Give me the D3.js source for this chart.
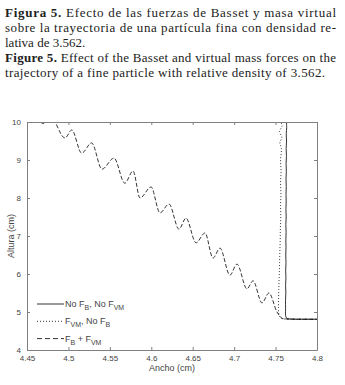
<!DOCTYPE html>
<html>
<head>
<meta charset="utf-8">
<script src="https://cdn.jsdelivr.net/npm/d3@7"></script>
<style>
  body { margin: 0; background: #fff; }
  svg { display: block; }
</style>
</head>
<body>
<svg width="345" height="385"></svg>
<script>
// caption lines (len = width the line spans in the figure, null = natural)
const captionLines = [
  { bold: "Figura 5.", text: " Efecto de las fuerzas de Basset y masa virtual", len: 331 },
  { bold: "", text: "sobre la trayectoria de una partícula fina con densidad re-", len: 331 },
  { bold: "", text: "lativa de 3.562.", len: null },
  { bold: "Figure 5.", text: " Effect of the Basset and virtual mass forces on the", len: 331 },
  { bold: "", text: "trajectory of a fine particle with relative density of 3.562.", len: 320 }
];

const xTicks = [4.45, 4.5, 4.55, 4.6, 4.65, 4.7, 4.75, 4.8];
const yTicks = [4, 5, 6, 7, 8, 9, 10];

// F_B + F_VM (dashed, oscillating)
const dashX = [4.455, 4.470, 4.478, 4.4959, 4.504, 4.516, 4.528, 4.5405, 4.555, 4.568, 4.578,
  4.5864, 4.5997, 4.6105, 4.6214, 4.6334, 4.6419, 4.654, 4.6648, 4.6745, 4.6829, 4.6949,
  4.7034, 4.7155, 4.7228, 4.7336, 4.742, 4.7517, 4.7555, 4.758, 4.765, 4.8];
const dashY = [10.4, 9.96, 10.15, 9.58, 9.79, 9.18, 9.45, 8.76, 9.05, 8.39, 8.71,
  8.0, 8.29, 7.61, 7.84, 7.18, 7.47, 6.82, 7.08, 6.42, 6.68, 5.97,
  6.26, 5.61, 5.82, 5.24, 5.50, 5.0, 4.88, 4.83, 4.815, 4.81];

// No F_B, No F_VM (solid)
const solidX = [4.7630, 4.7634, 4.7629, 4.7632, 4.7628, 4.7631, 4.7627, 4.7630, 4.7626, 4.7629,
  4.7626, 4.7628, 4.7625, 4.7628, 4.7624, 4.7627, 4.7624, 4.7626, 4.7623, 4.7626, 4.7622,
  4.7625, 4.7621, 4.7624, 4.7620, 4.7621, 4.7620, 4.7625, 4.7640, 4.7680, 4.7750, 4.8];
const solidY = [10.05, 9.85, 9.7, 9.5, 9.3, 9.1, 8.9, 8.7, 8.5, 8.3, 8.1, 7.9, 7.7, 7.5, 7.3,
  7.1, 6.9, 6.7, 6.5, 6.3, 6.1, 5.9, 5.7, 5.5, 5.3, 5.1, 4.95, 4.87, 4.83, 4.815, 4.81, 4.81];

// F_VM, No F_B (dotted)
const dotX = [4.7550, 4.7578, 4.7548, 4.7575, 4.7552, 4.7570, 4.7560, 4.7566, 4.7560, 4.7565,
  4.7560, 4.7563, 4.7558, 4.7556, 4.7552, 4.7548, 4.7545, 4.7540, 4.7537, 4.7535, 4.7540,
  4.7555, 4.7575, 4.7620, 4.8];
const dotY = [10.05, 9.9, 9.75, 9.6, 9.45, 9.3, 9.0, 8.7, 8.4, 8.1, 7.8, 7.5, 7.2, 6.9, 6.6,
  6.3, 6.0, 5.7, 5.4, 5.1, 4.95, 4.87, 4.83, 4.815, 4.81];

const series = [
  { name: "solid", xs: solidX, ys: solidY, dash: null },
  { name: "dotted", xs: dotX, ys: dotY, dash: "1,2" },
  { name: "dashed", xs: dashX, ys: dashY, dash: "4,2" }
];

const svg = d3.select("svg");
const axisColor = "#808080", textColor = "#444";

// caption
const cap = svg.append("g")
  .attr("font-family", "'Liberation Serif', 'DejaVu Serif', serif")
  .attr("font-size", 13)
  .attr("fill", "#222");
captionLines.forEach((l, i) => {
  const t = cap.append("text").attr("x", 5).attr("y", 17 + i * 15);
  if (l.len) t.attr("textLength", l.len).attr("lengthAdjust", "spacing");
  if (l.bold) t.append("tspan").attr("font-weight", "bold").text(l.bold);
  t.append("tspan").text(l.text);
});

// scales
const plotLeft = 27, plotRight = 317, plotTop = 122, plotBottom = 350;
const xScale = d3.scaleLinear().domain([4.45, 4.8]).range([plotLeft, plotRight]);
const yScale = d3.scaleLinear().domain([4, 10]).range([plotBottom, plotTop]);

// clip
svg.append("clipPath").attr("id", "plotClip")
  .append("rect").attr("x", plotLeft).attr("y", plotTop)
  .attr("width", plotRight - plotLeft).attr("height", plotBottom - plotTop);

// lines
const line = d3.line()
  .x((d) => xScale(d[0]))
  .y((d) => yScale(d[1]));

const lines = svg.append("g").attr("clip-path", "url(#plotClip)");
series.forEach((s) => {
  const pts = s.xs.map((x, i) => [x, s.ys[i]]);
  lines.append("path")
    .attr("d", line.curve(s.name === "dashed" ? d3.curveMonotoneX : d3.curveCatmullRom)(pts))
    .attr("fill", "none")
    .attr("stroke", "#000")
    .attr("stroke-width", 0.8)
    .attr("stroke-dasharray", s.dash);
});

// axes (ticks inward on all four sides)
function drawAxis(axis, tx, ty, id) {
  const g = svg.append("g").attr("id", id)
    .attr("transform", `translate(${tx},${ty})`).call(axis);
  g.select("path.domain").attr("stroke", axisColor);
  g.selectAll(".tick line").attr("stroke", axisColor);
  g.selectAll("text").attr("fill", textColor)
    .attr("font-family", "'Liberation Sans', Arial, sans-serif").attr("font-size", 8);
  return g;
}
drawAxis(d3.axisBottom(xScale).tickValues(xTicks).tickSizeInner(-3).tickSizeOuter(0)
  .tickPadding(5).tickFormat(d3.format("")), 0, plotBottom, "xAxisG");
drawAxis(d3.axisLeft(yScale).tickValues(yTicks).tickSizeInner(-3).tickSizeOuter(0)
  .tickPadding(6).tickFormat(d3.format("")), plotLeft, 0, "yAxisG");
drawAxis(d3.axisTop(xScale).tickValues(xTicks).tickSizeInner(-3).tickSizeOuter(0)
  .tickFormat(""), 0, plotTop, "xTopG");
drawAxis(d3.axisRight(yScale).tickValues(yTicks).tickSizeInner(-3).tickSizeOuter(0)
  .tickFormat(""), plotRight, 0, "yRightG");

// axis titles
svg.append("text")
  .attr("x", (plotLeft + plotRight) / 2).attr("y", 371)
  .attr("text-anchor", "middle")
  .attr("font-family", "'Liberation Sans', Arial, sans-serif").attr("font-size", 9)
  .attr("fill", textColor).text("Ancho (cm)");
svg.append("text")
  .attr("transform", `translate(14,${(plotTop + plotBottom) / 2}) rotate(-90)`)
  .attr("text-anchor", "middle")
  .attr("font-family", "'Liberation Sans', Arial, sans-serif").attr("font-size", 9)
  .attr("fill", textColor).text("Altura (cm)");

// legend
const legendItems = [
  { dash: null, parts: [["No F", ""], ["B", "sub"], [", No F", ""], ["VM", "sub"]] },
  { dash: "1,2", parts: [["F", ""], ["VM", "sub"], [", No F", ""], ["B", "sub"]] },
  { dash: "5,3", parts: [["F", ""], ["B", "sub"], [" + F", ""], ["VM", "sub"]] }
];
const legend = svg.append("g");
legendItems.forEach((item, i) => {
  const y = 304 + i * 17.3;
  legend.append("line")
    .attr("x1", 37).attr("x2", 64).attr("y1", y).attr("y2", y)
    .attr("stroke", "#000").attr("stroke-width", 0.8)
    .attr("stroke-dasharray", item.dash);
  const t = legend.append("text")
    .attr("x", 65).attr("y", y + 3)
    .attr("font-family", "'Liberation Sans', Arial, sans-serif").attr("font-size", 9)
    .attr("fill", textColor);
  item.parts.forEach(([txt, kind]) => {
    const sp = t.append("tspan").text(txt);
    if (kind === "sub") sp.attr("font-size", 7).attr("dy", 3);
    else if (t.selectAll("tspan").size() > 1) sp.attr("dy", -3);
  });
});
</script>
</body>
</html>
